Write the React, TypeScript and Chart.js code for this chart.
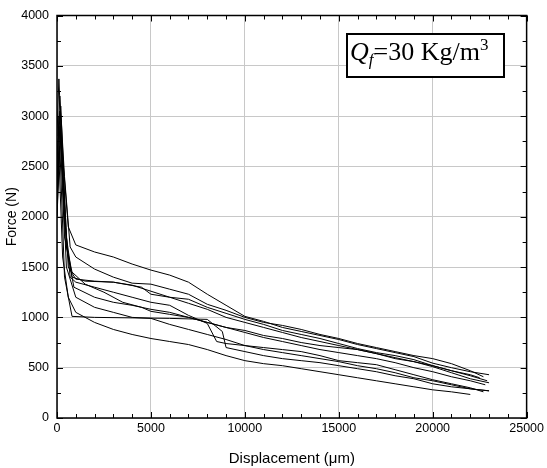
import React, { useEffect, useRef } from "react";
import { Chart, registerables } from "chart.js";

Chart.register(...registerables);

const xTicks = [0, 5000, 10000, 15000, 20000, 25000];
const yTicks = [0, 500, 1000, 1500, 2000, 2500, 3000, 3500, 4000];

const curveA: [number, number][] = [[0,2200],[100,3000],[300,2600],[600,1900],[1000,1720],[2000,1650],[3000,1600],[4000,1530],[5000,1470],[6000,1420],[7000,1350],[8000,1230],[9000,1120],[10000,1010],[11000,960],[12000,900],[13000,860],[14000,820],[15000,780],[16000,730],[17000,690],[18000,650],[19000,610],[20000,545],[21000,500],[22000,460],[23000,430]];
const curveB: [number, number][] = [[0,2500],[150,3200],[400,2400],[700,1700],[1000,1600],[2000,1480],[3000,1400],[4000,1340],[5000,1330],[6000,1280],[7000,1230],[8000,1130],[9000,1070],[10000,1000],[11000,950],[12000,920],[13000,880],[14000,830],[15000,790],[16000,740],[17000,700],[18000,660],[19000,620],[20000,590],[21000,540],[22000,470],[22700,410]];
const curveC: [number, number][] = [[0,2800],[100,3370],[300,2500],[600,1500],[1000,1380],[2000,1360],[3000,1350],[4000,1320],[5000,1260],[6000,1200],[7000,1140],[8000,1080],[9000,1000],[10000,950],[11000,900],[12000,850],[13000,800],[14000,760],[15000,720],[16000,680],[17000,640],[18000,600],[19000,560],[20000,520],[21000,470],[22000,420],[22900,370]];
const curveD: [number, number][] = [[0,2300],[200,3100],[500,1800],[800,1400],[1500,1360],[3000,1350],[4500,1300],[5000,1230],[6000,1200],[7000,1180],[8000,1100],[9000,1040],[10000,980],[11000,930],[12000,870],[13000,830],[14000,790],[15000,740],[16000,690],[17000,650],[18000,620],[19000,580],[20000,520],[21000,470],[22000,430],[22500,400]];
const curveE: [number, number][] = [[0,2000],[200,2900],[500,1700],[900,1300],[2000,1200],[3000,1150],[4000,1120],[5000,1080],[6000,1050],[7000,1000],[8000,950],[9000,900],[10000,870],[11000,820],[12000,790],[13000,750],[14000,720],[15000,700],[16000,680],[17000,640],[18000,590],[19000,560],[20000,510],[21000,450],[22000,390],[23000,350]];
const curveF: [number, number][] = [[0,2600],[150,3050],[400,2000],[700,1400],[1000,1350],[2000,1300],[3000,1250],[4000,1200],[5000,1150],[6000,1120],[7000,1020],[8000,940],[8500,760],[9000,740],[10000,720],[11000,700],[12000,680],[13000,660],[14000,620],[15000,570],[16000,550],[17000,530],[18000,480],[19000,430],[20000,380],[21000,340],[22000,300],[22700,260]];
const curveG: [number, number][] = [[0,2400],[200,2800],[500,1500],[1000,1200],[2000,1100],[3000,1050],[4000,1000],[5000,990],[6000,930],[7000,880],[8000,830],[9000,780],[10000,720],[11000,680],[12000,650],[13000,620],[14000,590],[15000,560],[16000,520],[17000,490],[18000,450],[19000,400],[20000,370],[21000,330],[22000,290],[23000,270]];
const curveH: [number, number][] = [[0,2200],[150,2700],[400,1400],[800,1010],[2000,1000],[4000,995],[6000,990],[8000,980],[8800,860],[9000,700],[10000,660],[11000,620],[12000,590],[13000,570],[14000,550],[15000,520],[16000,490],[17000,460],[18000,420],[19000,390],[20000,340],[21000,310],[22000,290],[23000,270]];
const curveI: [number, number][] = [[0,2000],[100,2600],[300,1600],[600,1200],[1000,1050],[2000,950],[3000,880],[4000,830],[5000,790],[6000,760],[7000,730],[8000,680],[9000,620],[10000,570],[11000,540],[12000,520],[13000,490],[14000,460],[15000,430],[16000,400],[17000,370],[18000,340],[19000,310],[20000,280],[21000,260],[22000,234]];
const curveJ: [number, number][] = [[0,2100],[150,2900],[400,1800],[800,1450],[1500,1330],[2500,1250],[3500,1150],[4500,1100],[5000,1060],[6000,1030],[7000,1000],[8000,950],[9000,900],[10000,850],[11000,800],[12000,760],[13000,720],[14000,680],[15000,650],[16000,620],[17000,590],[18000,550],[19000,500],[20000,460],[21000,410],[22000,370],[22800,330]];

const curves = [curveA, curveB, curveC, curveD, curveE, curveF, curveG, curveH, curveI, curveJ];

const framePlugin = {
  id: "frame",
  afterDraw(chart: any) {
    const { ctx, chartArea: a, scales } = chart;
    const xs = scales.x, ys = scales.y;
    ctx.save();
    ctx.strokeStyle = "#000";
    ctx.lineWidth = 1;
    ctx.beginPath();
    for (let v = 0; v <= 25000; v += 1000) {
      const px = Math.round(xs.getPixelForValue(v)) + 0.5;
      const len = v % 5000 === 0 ? 6 : 4;
      ctx.moveTo(px, a.bottom); ctx.lineTo(px, a.bottom - len);
      ctx.moveTo(px, a.top); ctx.lineTo(px, a.top + len);
    }
    for (let v = 0; v <= 4000; v += 250) {
      const py = Math.round(ys.getPixelForValue(v)) + 0.5;
      const len = v % 500 === 0 ? 6 : 4;
      ctx.moveTo(a.left, py); ctx.lineTo(a.left + len, py);
      ctx.moveTo(a.right, py); ctx.lineTo(a.right - len, py);
    }
    ctx.stroke();
    ctx.lineWidth = 1.5;
    ctx.strokeRect(a.left, a.top, a.right - a.left, a.bottom - a.top);

    // annotation box
    const bx = 347, by = 34, bw = 157, bh = 43;
    ctx.fillStyle = "#fff";
    ctx.fillRect(bx, by, bw, bh);
    ctx.lineWidth = 2;
    ctx.strokeRect(bx, by, bw, bh);
    ctx.fillStyle = "#000";
    ctx.textBaseline = "alphabetic";
    ctx.textAlign = "left";
    let x = 350;
    const base = 60;
    ctx.font = "italic 26px 'Liberation Serif', 'Times New Roman', serif";
    ctx.fillText("Q", x, base);
    x += ctx.measureText("Q").width;
    ctx.font = "italic 17px 'Liberation Serif', 'Times New Roman', serif";
    ctx.fillText("f", x, base + 5);
    x += ctx.measureText("f").width;
    ctx.font = "26px 'Liberation Serif', 'Times New Roman', serif";
    const t = "=30 Kg/m";
    ctx.fillText(t, x, base);
    x += ctx.measureText(t).width;
    ctx.font = "17px 'Liberation Serif', 'Times New Roman', serif";
    ctx.fillText("3", x, base - 10);
    ctx.restore();
  },
};

export default function App() {
  const ref = useRef<HTMLCanvasElement>(null);
  useEffect(() => {
    document.body.style.margin = "0";
    const font = "'Liberation Sans', Arial, sans-serif";
    const chart = new Chart(ref.current!, {
      type: "line",
      data: {
        datasets: curves.map((c, i) => ({
          label: "c" + i,
          data: c.map(([x, y]) => ({ x, y })),
          borderColor: "#000",
          borderWidth: 1,
          pointRadius: 0,
          tension: 0,
          fill: false,
        })),
      },
      options: {
        animation: false,
        responsive: false,
        maintainAspectRatio: false,
        layout: { padding: { top: 7, right: 20, left: 0, bottom: 0 } },
        plugins: { legend: { display: false }, tooltip: { enabled: false } },
        scales: {
          x: {
            type: "linear",
            min: 0,
            max: 25000,
            afterBuildTicks: (s: any) => { s.ticks = xTicks.map((v) => ({ value: v })); },
            afterFit: (s: any) => { s.height = 50; },
            grid: { color: "#c8c8c8", drawTicks: false, lineWidth: 1 },
            border: { display: false },
            ticks: { color: "#000", font: { family: font, size: 12.5 }, padding: 3, maxRotation: 0, callback: (v: any) => String(v) },
            title: { display: true, text: "Displacement (\u03bcm)", color: "#000", font: { family: font, size: 15 }, padding: { top: 0, bottom: 0 } },
          },
          y: {
            type: "linear",
            min: 0,
            max: 4000,
            afterBuildTicks: (s: any) => { s.ticks = yTicks.map((v) => ({ value: v })); },
            afterFit: (s: any) => { s.width = 57; },
            grid: { color: "#c8c8c8", drawTicks: false, lineWidth: 1 },
            border: { display: false },
            ticks: { color: "#000", font: { family: font, size: 12.5 }, padding: 8, callback: (v: any) => String(v) },
            title: { display: true, text: "Force (N)", color: "#000", font: { family: font, size: 14 }, padding: { top: 4, bottom: 4 } },
          },
        },
      },
      plugins: [framePlugin],
    });
    return () => chart.destroy();
  }, []);
  return <canvas ref={ref} width={547} height={468} style={{ display: "block", width: 547, height: 468 }} />;
}
